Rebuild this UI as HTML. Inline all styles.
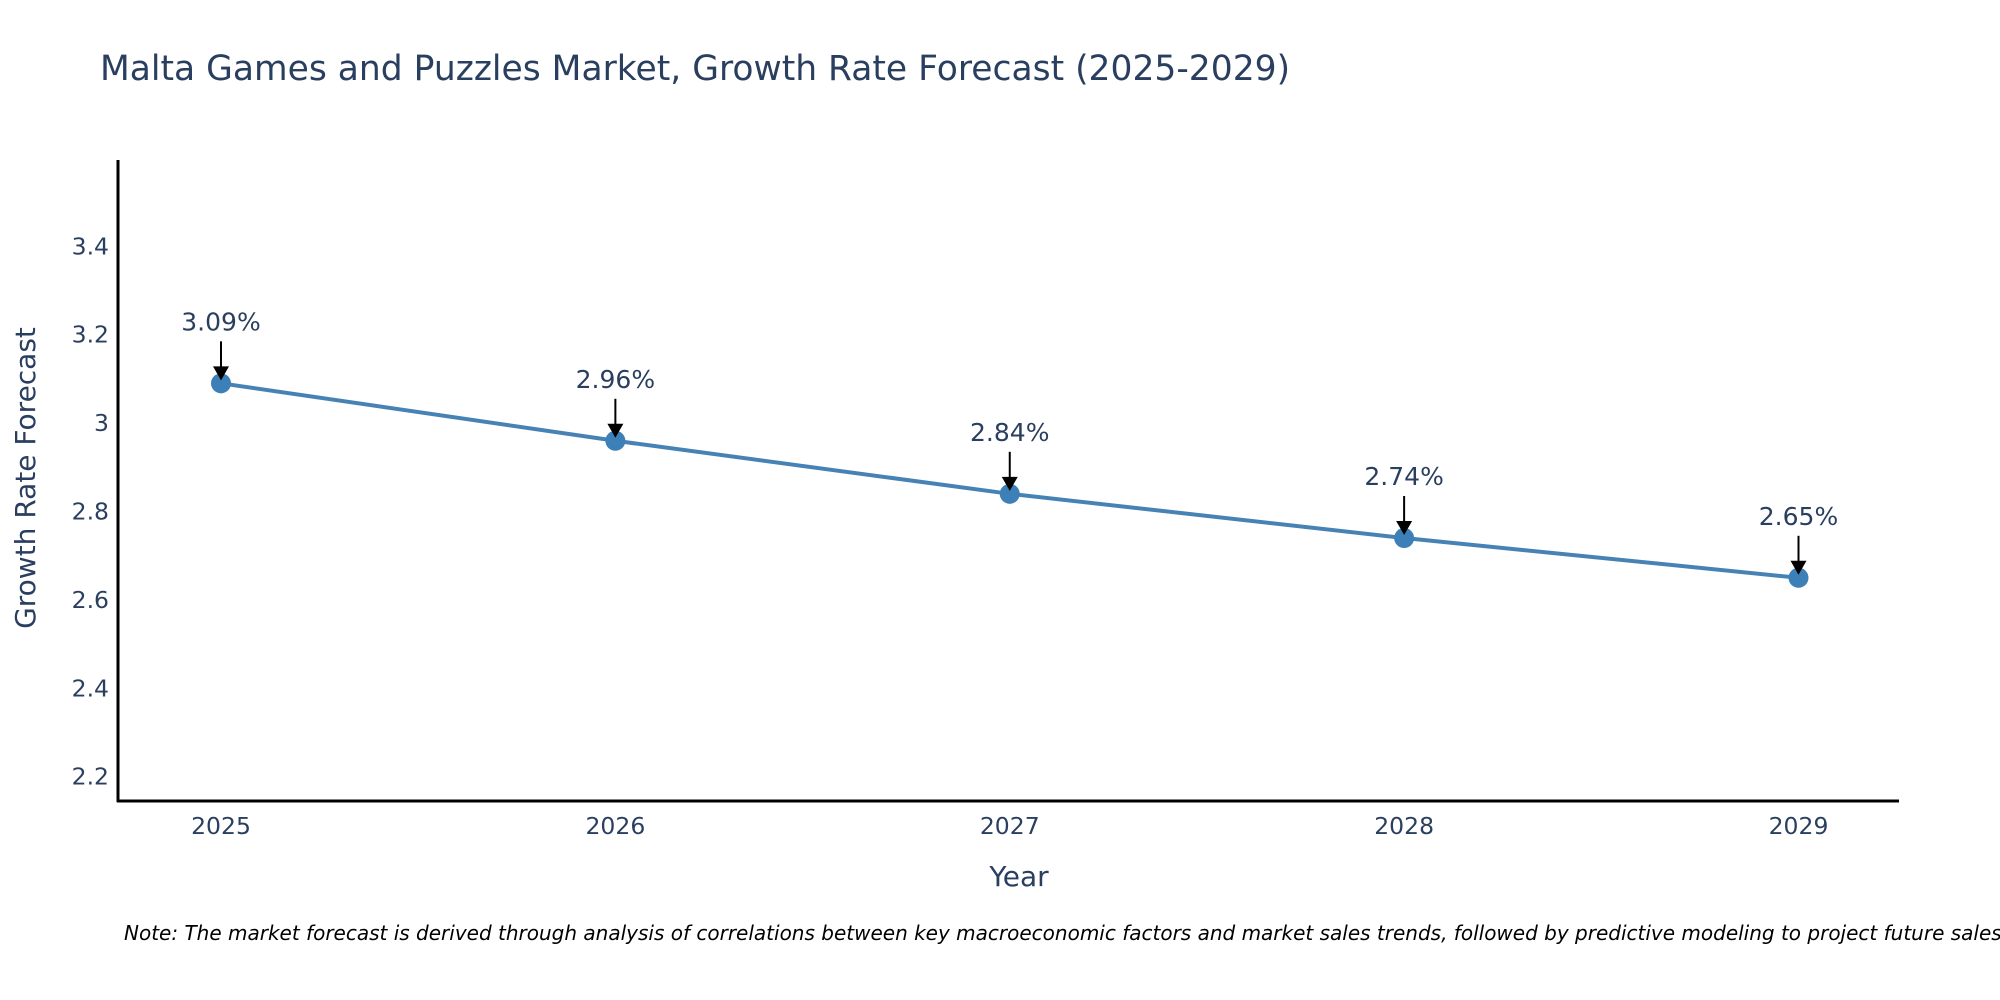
<!DOCTYPE html>
<html><head><meta charset="utf-8">
<style>
html,body{margin:0;padding:0;background:#fff;overflow:hidden;}
svg{display:block;font-family:"DejaVu Sans","Liberation Sans",sans-serif;}
</style></head>
<body>
<svg id="chart" width="2000" height="1000" viewBox="0 0 2000 1000" xmlns="http://www.w3.org/2000/svg">
<rect width="2000" height="1000" fill="#fff"/>
<text x="100" y="80" font-size="34.5" fill="#2a3f5f">Malta Games and Puzzles Market, Growth Rate Forecast (2025-2029)</text>
<g id="grid"></g>
<g id="xticks"></g>
<line x1="118" y1="160" x2="118" y2="802" stroke="#000" stroke-width="3"/>
<line x1="117" y1="801" x2="1899" y2="801" stroke="#000" stroke-width="3"/>
<g id="series"></g>
<g id="annots"></g>
<text x="1019" y="886" font-size="28" fill="#2a3f5f" text-anchor="middle">Year</text>
<text transform="translate(35,478) rotate(-90)" font-size="28" fill="#2a3f5f" text-anchor="middle">Growth Rate Forecast</text>
<text x="124" y="940" font-size="20" font-style="italic" fill="#000">Note: The market forecast is derived through analysis of correlations between key macroeconomic factors and market sales trends, followed by predictive modeling to project future sales.</text>
</svg>
<script>
const years = ["2025","2026","2027","2028","2029"];
const values = [3.09, 2.96, 2.84, 2.74, 2.65];
const labels = ["3.09%","2.96%","2.84%","2.74%","2.65%"];
const yTicks = [2.2, 2.4, 2.6, 2.8, 3, 3.2, 3.4];
const yTickLabels = ["2.2","2.4","2.6","2.8","3","3.2","3.4"];

const NS = "http://www.w3.org/2000/svg";
const yMin = 2.145, yMax = 3.593, pyBottom = 801, pyTop = 161;
const x0 = 221, x1 = 1798.5;
function xScale(i){ return x0 + i*(x1-x0)/(years.length-1); }
function yScale(v){ return pyBottom - (v-yMin)/(yMax-yMin)*(pyBottom-pyTop); }
function mk(tag, attrs, parent){ const e=document.createElementNS(NS,tag); for(const k in attrs) e.setAttribute(k,attrs[k]); parent.appendChild(e); return e; }

const grid=document.getElementById('grid');
yTicks.forEach((t,i)=>{
  const e=mk('text',{x:109,y:yScale(t)+8,'font-size':23.5,fill:'#2a3f5f','text-anchor':'end'},grid);
  
  
  e.textContent=yTickLabels[i];
});
const xt=document.getElementById('xticks');
years.forEach((y,i)=>{
  const e=mk('text',{x:xScale(i),y:834,'font-size':23.5,fill:'#2a3f5f','text-anchor':'middle'},xt);
  
  
  e.textContent=y;
});
const s=document.getElementById('series');
const pts=values.map((v,i)=>xScale(i)+','+yScale(v)).join(' ');
const pl=mk('polyline',{points:pts,fill:'none',stroke:'#4682b4','stroke-width':4},s);


values.forEach((v,i)=>{
  const c=mk('circle',{cx:xScale(i),cy:yScale(v),r:10,fill:'#3d80b8'},s);
  
  
});
const an=document.getElementById('annots');
values.forEach((v,i)=>{
  const x=xScale(i), y=yScale(v);
  const g=mk('g',{},an);
  
  
  const t=mk('text',{x:x,y:y-53,'font-size':25,fill:'#2a3f5f','text-anchor':'middle'},g);
  t.textContent=labels[i];
  mk('line',{x1:x,y1:y-42,x2:x,y2:y-14,stroke:'#000','stroke-width':2},g);
  mk('polygon',{points:(x-8)+','+(y-17)+' '+(x+8)+','+(y-17)+' '+x+','+(y-3),fill:'#000'},g);
});
</script>
</body></html>
